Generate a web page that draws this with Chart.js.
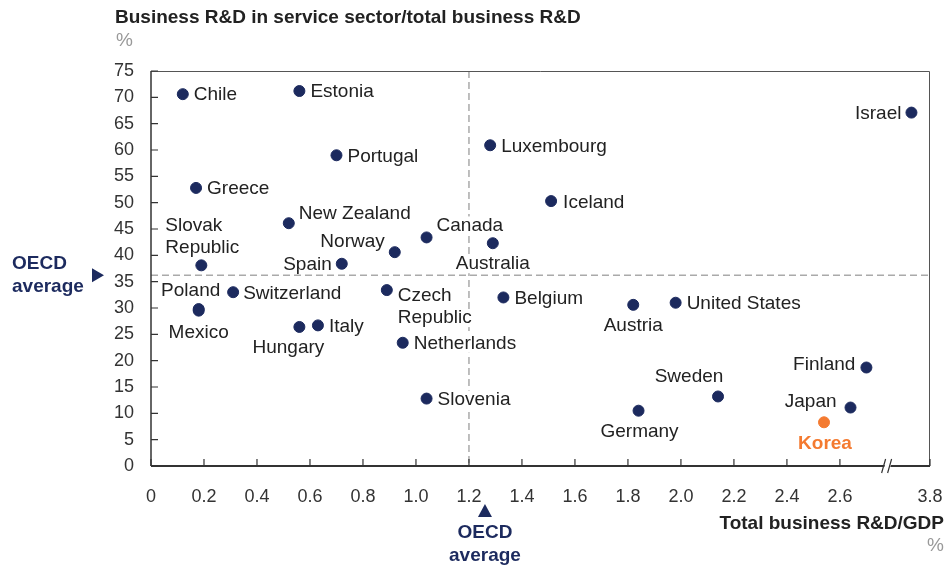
<!DOCTYPE html>
<html>
<head>
<meta charset="utf-8">
<script src="https://cdn.jsdelivr.net/npm/chart.js@4.4.1/dist/chart.umd.min.js"></script>
<style>
  body { margin: 0; background: #fff; }
  canvas { display: block; }
</style>
</head>
<body>
<canvas id="rdChart" width="946" height="565"></canvas>
<script>
// data
const countries = [
  "Chile", "Estonia", "Portugal", "Greece", "New Zealand", "Canada", "Norway",
  "Slovak Republic", "Spain", "Australia", "Poland", "Mexico", "Switzerland",
  "Czech Republic", "Hungary", "Italy", "Netherlands", "Slovenia", "Luxembourg",
  "Iceland", "Israel", "Belgium", "Austria", "United States", "Finland",
  "Sweden", "Japan", "Germany", "Korea",
];
const berdGdp = [
  0.12, 0.56, 0.70, 0.17, 0.52, 1.04, 0.92,
  0.19, 0.72, 1.29, 0.18, 0.18, 0.31,
  0.89, 0.56, 0.63, 0.95, 1.04, 1.28,
  1.51, 3.73, 1.33, 1.82, 1.98, 2.70,
  2.14, 2.64, 1.84, 2.54,
];
const serviceShare = [
  70.6, 71.2, 59.0, 52.8, 46.1, 43.4, 40.6,
  38.1, 38.4, 42.3, 29.8, 29.5, 33.0,
  33.4, 26.4, 26.7, 23.4, 12.8, 60.9,
  50.3, 67.1, 32.0, 30.6, 31.0, 18.7,
  13.2, 11.1, 10.5, 8.3,
];
const xTickValues = [0, 0.2, 0.4, 0.6, 0.8, 1.0, 1.2, 1.4, 1.6, 1.8, 2.0, 2.2, 2.4, 2.6, 3.8];
const xTickLabels = ["0", "0.2", "0.4", "0.6", "0.8", "1.0", "1.2", "1.4", "1.6", "1.8", "2.0", "2.2", "2.4", "2.6", "3.8"];
const yTickValues = [0, 5, 10, 15, 20, 25, 30, 35, 40, 45, 50, 55, 60, 65, 70, 75];
const oecdAvgX = 1.2;
const oecdAvgY = 36.2;
const highlight = "Korea";

// broken x axis: everything past the break is shifted left
const BREAK_AT = 2.78;
const BREAK_GAP = 0.86;
function toAxis(v) {
  return v > BREAK_AT ? v - BREAK_GAP : v;
}

const NAVY = "#1c2a5e";
const ORANGE = "#f47a30";
const TEXT = "#222";
const FONT = "'Liberation Sans', Arial, sans-serif";

// where each label sits relative to its dot
const labelPlacement = {
  "Chile": ["left", 11, 1],
  "Estonia": ["left", 11, 1],
  "Portugal": ["left", 11, 1.5],
  "Greece": ["left", 11, 1],
  "New Zealand": ["left", 10, -9],
  "Canada": ["left", 10, -12],
  "Norway": ["right", -10, -10],
  "Slovak Republic": ["left", -36, -40, true],
  "Spain": ["right", -10, 1],
  "Australia": ["center", 0, 21],
  "Poland": ["center", -8, -18],
  "Mexico": ["center", 0, 22],
  "Switzerland": ["left", 10, 1.5],
  "Czech Republic": ["left", 11, 6, true],
  "Hungary": ["center", -11, 21],
  "Italy": ["left", 11, 1.5],
  "Netherlands": ["left", 11, 1],
  "Slovenia": ["left", 11, 1],
  "Luxembourg": ["left", 11, 2],
  "Iceland": ["left", 12, 2],
  "Israel": ["right", -10, 1],
  "Belgium": ["left", 11, 1],
  "Austria": ["center", 0, 21],
  "United States": ["left", 11, 1],
  "Finland": ["right", -11, -3],
  "Sweden": ["center", -29, -20],
  "Japan": ["right", -14, -6],
  "Germany": ["center", 1, 21],
  "Korea": ["center", 1, 21],
};

const points = countries.map((c, i) => ({ x: toAxis(berdGdp[i]), y: serviceShare[i] }));
const pointColors = countries.map((c) => (c === highlight ? ORANGE : NAVY));

const decorPlugin = {
  id: "decor",
  beforeDatasetsDraw(chart) {
    const ctx = chart.ctx;
    const area = chart.chartArea;
    const xs = chart.scales.x;
    const ys = chart.scales.y;

    // OECD average lines
    ctx.save();
    ctx.strokeStyle = "#aaa";
    ctx.lineWidth = 1.5;
    ctx.setLineDash([7, 4]);
    const ax = xs.getPixelForValue(toAxis(oecdAvgX));
    const ay = ys.getPixelForValue(oecdAvgY);
    ctx.beginPath();
    ctx.moveTo(ax, area.top);
    ctx.lineTo(ax, area.bottom);
    ctx.moveTo(area.left, ay);
    ctx.lineTo(area.right, ay);
    ctx.stroke();
    ctx.restore();

    // point labels with white backing so they cut the dashed lines
    const meta = chart.getDatasetMeta(0);
    ctx.save();
    ctx.textBaseline = "middle";
    countries.forEach((name, i) => {
      const el = meta.data[i];
      const place = labelPlacement[name];
      const lines = place[3] ? name.split(" ") : [name];
      const isHi = name === highlight;
      ctx.font = (isHi ? "bold " : "") + "19px " + FONT;
      ctx.textAlign = place[0];
      lines.forEach((line, j) => {
        const tx = el.x + place[1];
        const ty = el.y + place[2] + j * 22;
        const w = ctx.measureText(line).width;
        let left = tx;
        if (place[0] === "right") left = tx - w;
        if (place[0] === "center") left = tx - w / 2;
        ctx.fillStyle = "#fff";
        ctx.fillRect(left - 1, ty - 9, w + 2, 18);
        ctx.fillStyle = isHi ? ORANGE : TEXT;
        ctx.fillText(line, tx, ty);
      });
    });
    ctx.restore();

    // frame
    ctx.save();
    ctx.strokeStyle = "#555";
    ctx.lineWidth = 1;
    ctx.beginPath();
    ctx.moveTo(area.left, area.top + 0.5);
    ctx.lineTo(area.right - 0.5, area.top + 0.5);
    ctx.lineTo(area.right - 0.5, area.bottom);
    ctx.stroke();
    ctx.strokeStyle = "#333";
    ctx.lineWidth = 1.5;
    ctx.beginPath();
    ctx.moveTo(area.left, area.top);
    ctx.lineTo(area.left, area.bottom);
    ctx.stroke();
    ctx.lineWidth = 2;
    ctx.beginPath();
    ctx.moveTo(area.left, area.bottom);
    ctx.lineTo(area.right, area.bottom);
    ctx.stroke();

    // inner ticks
    ctx.lineWidth = 1.2;
    ctx.beginPath();
    yTickValues.forEach((v) => {
      const py = ys.getPixelForValue(v);
      ctx.moveTo(area.left, py);
      ctx.lineTo(area.left + 7, py);
    });
    xTickValues.forEach((v) => {
      const px = xs.getPixelForValue(toAxis(v));
      ctx.moveTo(px, area.bottom);
      ctx.lineTo(px, area.bottom - 7);
    });
    ctx.stroke();

    // axis break marks
    const bx = xs.getPixelForValue(BREAK_AT);
    const by = area.bottom;
    ctx.fillStyle = "#fff";
    ctx.beginPath();
    ctx.moveTo(bx - 5, by + 7);
    ctx.lineTo(bx - 1, by - 7);
    ctx.lineTo(bx + 5, by - 7);
    ctx.lineTo(bx + 1, by + 7);
    ctx.closePath();
    ctx.fill();
    ctx.strokeStyle = "#333";
    ctx.lineWidth = 1.2;
    ctx.beginPath();
    ctx.moveTo(bx - 6, by + 7);
    ctx.lineTo(bx - 2, by - 7);
    ctx.moveTo(bx, by + 7);
    ctx.lineTo(bx + 4, by - 7);
    ctx.stroke();
    ctx.restore();
  },
  afterDraw(chart) {
    const ctx = chart.ctx;
    const xs = chart.scales.x;
    const ys = chart.scales.y;
    ctx.save();
    ctx.textBaseline = "middle";

    // titles
    ctx.fillStyle = TEXT;
    ctx.font = "bold 19px " + FONT;
    ctx.textAlign = "left";
    ctx.fillText("Business R&D in service sector/total business R&D", 115, 18);
    ctx.fillStyle = "#999";
    ctx.font = "19px " + FONT;
    ctx.fillText("%", 116, 41);

    ctx.fillStyle = TEXT;
    ctx.font = "bold 19px " + FONT;
    ctx.textAlign = "right";
    ctx.fillText("Total business R&D/GDP", 944, 524);
    ctx.fillStyle = "#999";
    ctx.font = "19px " + FONT;
    ctx.fillText("%", 944, 546);

    // OECD average markers
    ctx.fillStyle = NAVY;
    ctx.font = "bold 19px " + FONT;
    ctx.textAlign = "left";
    ctx.fillText("OECD", 12, 264);
    ctx.fillText("average", 12, 287);
    const ty = ys.getPixelForValue(oecdAvgY);
    ctx.beginPath();
    ctx.moveTo(92, ty - 7);
    ctx.lineTo(104, ty);
    ctx.lineTo(92, ty + 7);
    ctx.closePath();
    ctx.fill();

    const tx = xs.getPixelForValue(toAxis(oecdAvgX)) + 16;
    ctx.beginPath();
    ctx.moveTo(tx - 7, 517);
    ctx.lineTo(tx, 504);
    ctx.lineTo(tx + 7, 517);
    ctx.closePath();
    ctx.fill();
    ctx.textAlign = "center";
    ctx.fillText("OECD", tx, 533);
    ctx.fillText("average", tx, 556);
    ctx.restore();
  },
};

const ctx = document.getElementById("rdChart").getContext("2d");
const rdChart = new Chart(ctx, {
  type: "scatter",
  data: {
    datasets: [
      {
        data: points,
        pointBackgroundColor: pointColors,
        pointBorderColor: pointColors,
        pointRadius: 5.5,
        pointHoverRadius: 5.5,
      },
    ],
  },
  options: {
    responsive: false,
    animation: false,
    events: [],
    layout: { padding: { top: 71, right: 16, left: 0, bottom: 0 } },
    plugins: { legend: { display: false }, tooltip: { enabled: false } },
    scales: {
      x: {
        type: "linear",
        min: 0,
        max: toAxis(3.8),
        grid: { display: false, drawTicks: false },
        border: { display: false },
        afterBuildTicks: (scale) => {
          scale.ticks = xTickValues.map((v) => ({ value: toAxis(v) }));
        },
        afterFit: (scale) => {
          scale.height = 99;
          scale.paddingLeft = 0;
          scale.paddingRight = 0;
        },
        ticks: {
          autoSkip: false,
          maxRotation: 0,
          padding: 20,
          color: "#333",
          font: { family: FONT, size: 18 },
          callback: (value, index) => xTickLabels[index],
        },
      },
      y: {
        min: 0,
        max: 75,
        grid: { display: false, drawTicks: false },
        border: { display: false },
        afterBuildTicks: (scale) => {
          scale.ticks = yTickValues.map((v) => ({ value: v }));
        },
        afterFit: (scale) => {
          scale.width = 151;
          scale.paddingTop = 0;
          scale.paddingBottom = 0;
        },
        ticks: {
          padding: 17,
          color: "#333",
          font: { family: FONT, size: 18 },
        },
      },
    },
  },
  plugins: [decorPlugin],
});
</script>
</body>
</html>
